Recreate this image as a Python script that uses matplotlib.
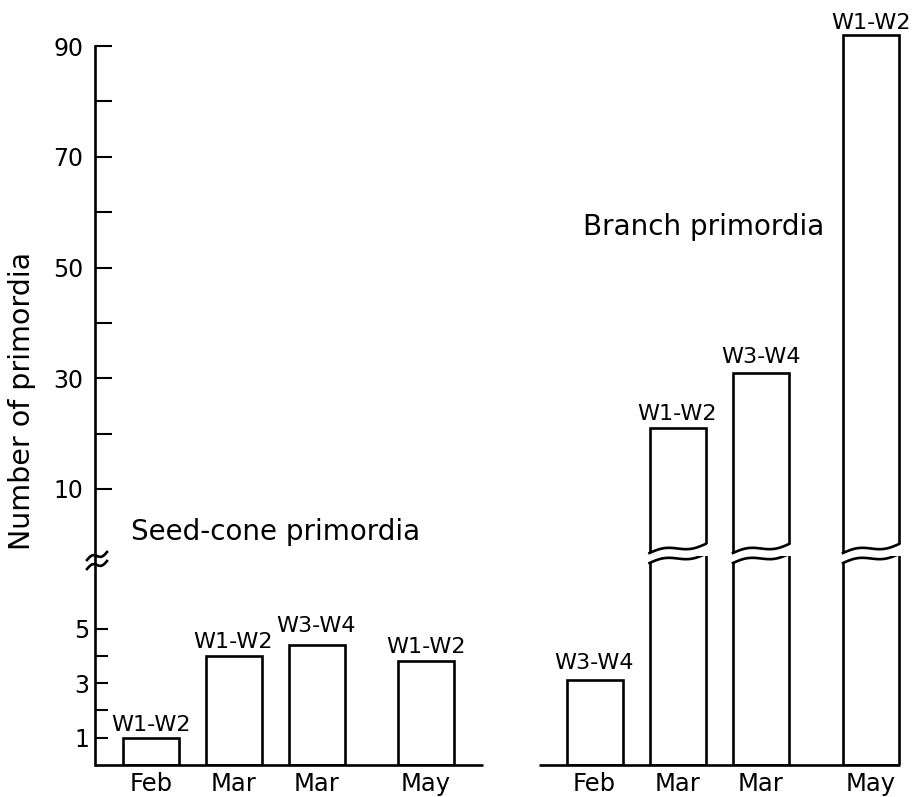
import numpy as np
import matplotlib
matplotlib.use("Agg")
import matplotlib.pyplot as plt
from matplotlib.transforms import blended_transform_factory
from matplotlib.patches import Polygon

# data
seed_months = ["Feb", "Mar", "Mar", "May"]
seed_weeks = ["W1-W2", "W1-W2", "W3-W4", "W1-W2"]
seed_counts = [1.0, 4.0, 4.4, 3.8]

branch_months = ["Feb", "Mar", "Mar", "May"]
branch_weeks = ["W3-W4", "W1-W2", "W3-W4", "W1-W2"]
branch_counts = [3.1, 21, 31, 92]

# layout (x in pixel-like units from the y axis)
seed_x = [56, 138.5, 221.5, 331]
branch_x = [499.5, 582.5, 666, 776]
bar_w = 56
seed_gap = [7, 8, 13, 8]      # label gap above bar, px
branch_gap = [11, 8, 10, 6]

W, H = 913, 797
plt.rcParams['font.family'] = ['DejaVu Sans']
LW = 1.9

fig = plt.figure(figsize=(W / 100, H / 100), dpi=100)
bot_h = 209
top_h = 536
ax_bot = fig.add_axes([95 / W, 32 / H, 818 / W, bot_h / H])
ax_top = fig.add_axes([95 / W, (32 + bot_h) / H, 818 / W, top_h / H])

bot_lim = (0, bot_h / 27.3)
top_lim = (10 - 67 / 5.5375, 10 + 469 / 5.5375)

for ax in (ax_bot, ax_top):
    ax.set_xlim(0, 818)
    for s in ("top", "right", "bottom"):
        ax.spines[s].set_visible(False)
    ax.spines["left"].set_linewidth(LW)
ax_bot.set_ylim(*bot_lim)
ax_top.set_ylim(*top_lim)
ax_top.spines["left"].set_bounds(top_lim[0], 90)

# bars
ax_bot.bar(seed_x, seed_counts, width=bar_w, facecolor="white",
           edgecolor="black", linewidth=LW, zorder=2)
ax_bot.bar(branch_x, branch_counts, width=bar_w, facecolor="white",
           edgecolor="black", linewidth=LW, zorder=2)
big = [i for i, v in enumerate(branch_counts) if v > bot_lim[1]]
ax_top.bar([branch_x[i] for i in big], [branch_counts[i] + 5 for i in big],
           bottom=-5, width=bar_w, facecolor="white", edgecolor="black",
           linewidth=LW, zorder=2)

# wavy break on the tall bars
t = np.linspace(0, 1, 60)
rise = 9 * t + 2.5 * np.sin(2 * np.pi * t)
for i in big:
    x0 = branch_x[i] - bar_w / 2
    wx = x0 + t * bar_w
    # lower part: wavy top
    tr = blended_transform_factory(ax_bot.transData, ax_bot.transAxes)
    wy = (202 + rise) / bot_h
    pts = [(x0 - 3, wy[0])] + list(zip(wx, wy)) + [(x0 + bar_w + 3, wy[-1]),
                                                    (x0 + bar_w + 3, 1.2), (x0 - 3, 1.2)]
    ax_bot.add_patch(Polygon(pts, closed=True, facecolor="white",
                             edgecolor="none", transform=tr, zorder=3))
    ax_bot.plot(wx, wy, color="black", lw=LW, transform=tr, zorder=4)
    # upper part: wavy bottom
    tr = blended_transform_factory(ax_top.transData, ax_top.transAxes)
    wy = (3 + rise) / top_h
    pts = [(x0 - 3, wy[0])] + list(zip(wx, wy)) + [(x0 + bar_w + 3, wy[-1]),
                                                    (x0 + bar_w + 3, -0.2), (x0 - 3, -0.2)]
    ax_top.add_patch(Polygon(pts, closed=True, facecolor="white",
                             edgecolor="none", transform=tr, zorder=3))
    ax_top.plot(wx, wy, color="black", lw=LW, transform=tr, zorder=4)

# baselines
ax_bot.plot([0, 388], [0, 0], color="black", lw=LW, clip_on=False,
            solid_capstyle="butt")
ax_bot.plot([444, 805], [0, 0], color="black", lw=LW, clip_on=False,
            solid_capstyle="butt")

# bar labels
for x, v, lab, g in zip(seed_x, seed_counts, seed_weeks, seed_gap):
    ax_bot.annotate(lab, (x, v), xytext=(0, g * 0.72), textcoords="offset points",
                    ha="center", va="baseline", fontsize=16)
for x, v, lab, g in zip(branch_x, branch_counts, branch_weeks, branch_gap):
    ax = ax_top if v > bot_lim[1] else ax_bot
    ax.annotate(lab, (x, v), xytext=(0, g * 0.72), textcoords="offset points",
                ha="center", va="baseline", fontsize=16)

# y ticks
ax_top.set_yticks([10, 30, 50, 70, 90])
ax_top.set_yticks([20, 40, 60, 80], minor=True)
ax_top.tick_params(axis="y", which="both", direction="in", length=12.2,
                   width=1.5, labelsize=17, pad=8.6)
ax_top.tick_params(axis="x", bottom=False, labelbottom=False)

ax_bot.set_yticks([1, 3, 5])
ax_bot.set_yticks([2, 4], minor=True)
ax_bot.tick_params(axis="y", which="both", direction="in", length=9.4,
                   width=1.5, labelsize=17, pad=4.3)
ax_bot.set_xticks(seed_x + branch_x, labels=seed_months + branch_months)
ax_bot.tick_params(axis="x", length=0, pad=5, labelsize=17.5)

# axis break mark
for y0 in (560, 569):
    bx = (87 + 20 * t) / W
    by = (H - (y0 - (8 * t + 2.5 * np.sin(2 * np.pi * t)))) / H
    fig.lines.append(plt.Line2D(bx, by, color="black", lw=LW,
                                transform=fig.transFigure))

# panel titles and y label
ax_top.text(181, 0.8, "Seed-cone primordia", ha="center", va="baseline",
            fontsize=20)
ax_top.text(609, 55.9, "Branch primordia", ha="center", va="baseline",
            fontsize=20)
fig.text(22 / W, 1 - 401 / H, "Number of primordia", rotation=90,
         ha="center", va="center", fontsize=20.5)

fig.savefig("out.png", dpi=100)
